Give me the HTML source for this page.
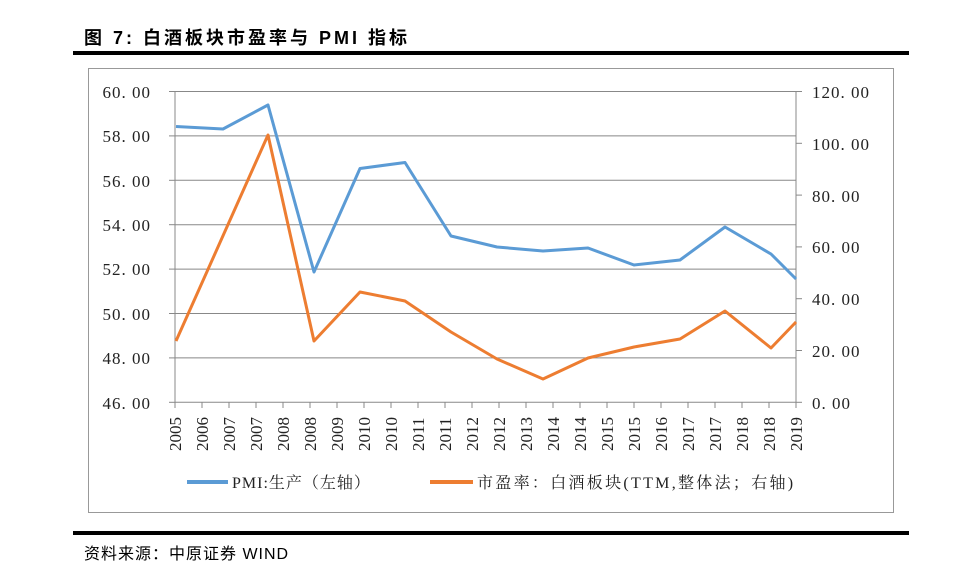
<!DOCTYPE html>
<html><head><meta charset="utf-8"><style>
body{margin:0;background:#fff;width:972px;height:569px;overflow:hidden;position:relative;font-family:"Liberation Serif","Noto Serif CJK SC",serif}
.t{position:absolute;left:84px;top:24px;font:bold 18px "Liberation Sans","Noto Sans CJK SC",sans-serif;letter-spacing:3px}
.s{position:absolute;left:84px;top:540px;font:16px "Liberation Sans","Noto Sans CJK SC",sans-serif;letter-spacing:1px}
</style></head><body>
<div class="t">图 7: 白酒板块市盈率与 PMI 指标</div>
<div style="position:absolute;left:73px;top:51px;width:836px;height:4px;background:#000"></div>
<div style="position:absolute;left:88px;top:68px;width:804px;height:443px;border:1px solid #999"></div>
<div style="position:absolute;left:73px;top:531px;width:836px;height:4px;background:#000"></div>
<div class="s">资料来源：中原证券 WIND</div>
<svg width="972" height="569" style="position:absolute;left:0;top:0" font-family="Liberation Serif, Noto Serif CJK SC, serif">
<g stroke="#888" stroke-width="1">
<line x1="175" y1="91.5" x2="796" y2="91.5"/><line x1="175" y1="135.9" x2="796" y2="135.9"/>
<line x1="175" y1="180.3" x2="796" y2="180.3"/><line x1="175" y1="224.7" x2="796" y2="224.7"/>
<line x1="175" y1="269.1" x2="796" y2="269.1"/><line x1="175" y1="313.5" x2="796" y2="313.5"/>
<line x1="175" y1="357.9" x2="796" y2="357.9"/><line x1="175" y1="402.3" x2="796" y2="402.3"/>
<line x1="175" y1="91" x2="175" y2="402"/><line x1="796" y1="91" x2="796" y2="402"/>
<line x1="169" y1="91.5" x2="175" y2="91.5"/><line x1="169" y1="135.9" x2="175" y2="135.9"/><line x1="169" y1="180.3" x2="175" y2="180.3"/><line x1="169" y1="224.7" x2="175" y2="224.7"/><line x1="169" y1="269.1" x2="175" y2="269.1"/><line x1="169" y1="313.5" x2="175" y2="313.5"/><line x1="169" y1="357.9" x2="175" y2="357.9"/><line x1="169" y1="402.3" x2="175" y2="402.3"/>
<line x1="796" y1="91.5" x2="802" y2="91.5"/><line x1="796" y1="143.3" x2="802" y2="143.3"/><line x1="796" y1="195.1" x2="802" y2="195.1"/><line x1="796" y1="246.9" x2="802" y2="246.9"/><line x1="796" y1="298.7" x2="802" y2="298.7"/><line x1="796" y1="350.5" x2="802" y2="350.5"/><line x1="796" y1="402.3" x2="802" y2="402.3"/>
</g>
<g id="xt" stroke="#888"></g>
<g font-size="17" fill="#222" text-anchor="end" letter-spacing="1">
<text x="151" y="98">60. 00</text><text x="151" y="142">58. 00</text><text x="151" y="187">56. 00</text><text x="151" y="231">54. 00</text><text x="151" y="275">52. 00</text><text x="151" y="320">50. 00</text><text x="151" y="364">48. 00</text><text x="151" y="409">46. 00</text>
</g>
<g font-size="17" fill="#222" letter-spacing="1">
<text x="812" y="98">120. 00</text><text x="812" y="150">100. 00</text><text x="812" y="202">80. 00</text><text x="812" y="253">60. 00</text><text x="812" y="305">40. 00</text><text x="812" y="357">20. 00</text><text x="812" y="409">0. 00</text>
</g>
<g id="xl" font-size="17" fill="#222"></g>
<polyline fill="none" stroke="#5b9bd5" stroke-width="3" stroke-linejoin="round" points="176,126.5 223,129 268,105 314,272 360,168.5 405,162.5 451,236 497,247 543,251 588,248 634,265 680,260 725,227 771,254 796,279"/>
<polyline fill="none" stroke="#ed7d31" stroke-width="3" stroke-linejoin="round" points="176,341 268,135 314,341 360,292 405,301 451,332 497,359 543,379 588,358 634,347 680,339 725,311 771,348 796,322"/>
<line x1="187" y1="482" x2="228" y2="482" stroke="#5b9bd5" stroke-width="4"/>
<text x="232" y="488" font-size="16" fill="#222" letter-spacing="1">PMI:生产（左轴）</text>
<line x1="430" y1="482" x2="473" y2="482" stroke="#ed7d31" stroke-width="4"/>
<text x="477" y="488" font-size="16" fill="#222" letter-spacing="2.3">市盈率：白酒板块(TTM,整体法；右轴)</text>
</svg>
<script>
var y=["2005","2006","2007","2007","2008","2008","2009","2010","2010","2011","2011","2012","2012","2013","2014","2014","2015","2015","2016","2017","2017","2018","2018","2019"];
var xt=document.getElementById("xt"),xl=document.getElementById("xl"),ns="http://www.w3.org/2000/svg";
for(var i=0;i<24;i++){var x=175+i*27;
var l=document.createElementNS(ns,"line");l.setAttribute("x1",x);l.setAttribute("x2",x);l.setAttribute("y1",402);l.setAttribute("y2",408);xt.appendChild(l);
var t=document.createElementNS(ns,"text");t.setAttribute("transform","translate("+(x+6)+",451) rotate(-90)");t.textContent=y[i];xl.appendChild(t);}
</script>
</body></html>
